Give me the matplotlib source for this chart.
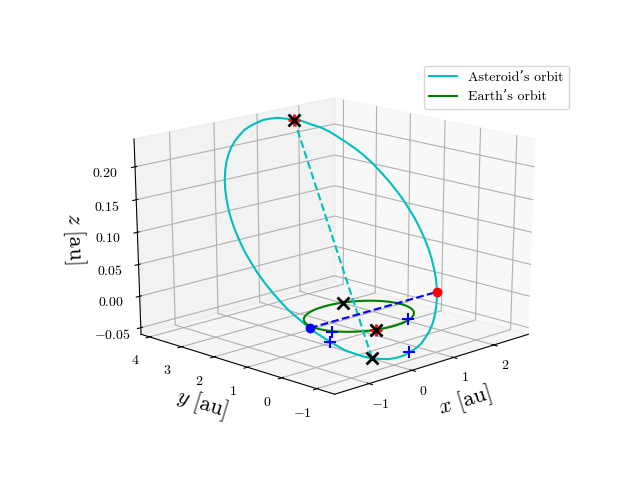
import matplotlib
matplotlib.use("Agg")
import matplotlib.pyplot as plt

plt.rcParams['font.family'] = ['cmr10', 'DejaVu Serif']
plt.rcParams['mathtext.fontset'] = 'cm'
plt.rcParams['axes.unicode_minus'] = False
plt.rcParams['axes.formatter.use_mathtext'] = True

ast_x = [-.288,-.131,.033,.200,.370,.543,.716,.889,1.058,1.224,1.387,1.543,1.691,1.832,1.964,2.085,2.195,2.293,2.378,
         2.449,2.507,2.551,2.578,2.592,2.591,2.575,2.543,2.496,2.436,2.361,2.274,2.173,2.060,1.936,1.803,1.661,1.510,
         1.353,1.189,1.022,.852,.679,.506,.333,.164,-.002,-.165,-.321,-.469,-.610,-.742,-.863,-.973,-1.071,-1.156,
         -1.227,-1.285,-1.329,-1.356,-1.370,-1.369,-1.353,-1.321,-1.274,-1.214,-1.139,-1.052,-.951,-.838,-.714,-.581,-.439,-.288]
ast_y = [-.725,-.777,-.813,-.830,-.829,-.810,-.774,-.719,-.648,-.560,-.457,-.337,-.204,-.057,.101,.271,.451,.638,.832,
         1.032,1.235,1.441,1.647,1.853,2.056,2.255,2.449,2.636,2.814,2.983,3.140,3.286,3.419,3.536,3.639,3.725,3.795,
         3.847,3.883,3.900,3.899,3.880,3.844,3.789,3.718,3.630,3.527,3.407,3.274,3.127,2.969,2.799,2.619,2.432,2.238,
         2.038,1.835,1.629,1.423,1.217,1.014,.815,.621,.434,.256,.087,-.070,-.216,-.349,-.466,-.569,-.655,-.725]
ast_z = [-.049,-.052,-.055,-.056,-.056,-.054,-.052,-.049,-.043,-.038,-.031,-.023,-.014,-.004,.006,.017,.027,.039,.051,
         .063,.075,.088,.100,.113,.125,.137,.149,.161,.172,.182,.191,.200,.209,.216,.221,.227,.231,
         .234,.237,.238,.238,.236,.234,.231,.226,.221,.215,.208,.200,.191,.181,.171,.160,.148,.136,
         .124,.112,.099,.087,.074,.062,.050,.038,.026,.016,.005,-.005,-.014,-.023,-.032,-.038,-.044,-.049]
earth_x = [1,.996,.985,.966,.940,.906,.866,.819,.766,.707,.643,.574,.5,.423,.342,.259,.174,.087,
           0,-.087,-.174,-.259,-.342,-.423,-.5,-.574,-.643,-.707,-.766,-.819,-.866,-.906,-.940,-.966,-.985,-.996,
           -1,-.996,-.985,-.966,-.940,-.906,-.866,-.819,-.766,-.707,-.643,-.574,-.5,-.423,-.342,-.259,-.174,-.087,
           0,.087,.174,.259,.342,.423,.5,.574,.643,.707,.766,.819,.866,.906,.940,.966,.985,.996,1]
earth_y = [0,.087,.174,.259,.342,.423,.5,.574,.643,.707,.766,.819,.866,.906,.940,.966,.985,.996,
           1,.996,.985,.966,.940,.906,.866,.819,.766,.707,.643,.574,.5,.423,.342,.259,.174,.087,
           0,-.087,-.174,-.259,-.342,-.423,-.5,-.574,-.643,-.707,-.766,-.819,-.866,-.906,-.940,-.966,-.985,-.996,
           -1,-.996,-.985,-.966,-.940,-.906,-.866,-.819,-.766,-.707,-.643,-.574,-.5,-.423,-.342,-.259,-.174,-.087,0]
earth_z = [0] * len(earth_x)

apsis_x = [1.510, -.288]
apsis_y = [3.795, -.725]
apsis_z = [.231, -.049]
node_x = [-1.11, 1.91]
node_y = [.03, .035]
node_z = [.002, .002]
black_x = [1.510, -.288, .37, -.37]
black_y = [3.795, -.725, .93, -.93]
black_z = [.231, -.049, 0, 0]
red_plus_x = [1.510, -.37]
red_plus_y = [3.795, -.93]
red_plus_z = [.231, 0]
blue_plus_x = [-.97, .43, -.90, .53]
blue_plus_y = [-.42, -.88, -.275, -.805]
blue_plus_z = [0, 0, -.018, -.054]

x_ticks = [-1, 0, 1, 2]
y_ticks = [-1, 0, 1, 2, 3, 4]
z_ticks = [-.05, 0, .05, .10, .15, .20]
x_labels = ['$-1$', '$0$', '$1$', '$2$']
y_labels = ['$-1$', '$0$', '$1$', '$2$', '$3$', '$4$']
z_labels = ['$-0.05$', '$0.00$', '$0.05$', '$0.10$', '$0.15$', '$0.20$']

fig = plt.figure(figsize=(6.4, 4.8), dpi=100)
ax = fig.add_subplot(111, projection='3d')
ax.apply_aspect = lambda position=None: None
ax.set_position([0.125, 0.11 - 1 / 480, 0.775, 0.77])
ax.view_init(elev=20, azim=-135)
ax.set_box_aspect((1, 1, 1), zoom=0.945)

ax.plot(ast_x, ast_y, ast_z, color='c', lw=1.5, label="Asteroid\u2019s orbit")
ax.plot(earth_x, earth_y, earth_z, color='g', lw=1.5, label="Earth\u2019s orbit")
ax.plot(apsis_x, apsis_y, apsis_z, color='c', ls='--', lw=1.5)
ax.plot(node_x, node_y, node_z, color='b', ls='--', lw=1.5)
ax.plot(red_plus_x, red_plus_y, red_plus_z, 'r+', ms=8, mew=2, ls='none')
ax.plot(black_x, black_y, black_z, 'kx', ms=8, mew=2, ls='none')
ax.plot(blue_plus_x, blue_plus_y, blue_plus_z, 'b+', ms=8, mew=1.5, ls='none')
ax.plot([node_x[0]], [node_y[0]], [node_z[0]], 'o', color='b', ms=6)
ax.plot([node_x[1]], [node_y[1]], [node_z[1]], 'o', color='r', ms=6)

ax.set_xlim(-1.78, 2.88, view_margin=0)
ax.set_ylim(-1.5, 4.27, view_margin=0)
ax.set_zlim(-.0606, .2417, view_margin=0)
ax.set_xticks(x_ticks)
ax.set_xticklabels(x_labels)
ax.set_yticks(y_ticks)
ax.set_yticklabels(y_labels)
ax.set_zticks(z_ticks)
ax.set_zticklabels(z_labels)
ax.tick_params(axis='x', pad=1)
ax.tick_params(axis='y', pad=3.5)
ax.tick_params(axis='z', pad=4)
ax.set_xlabel(r'$x\ [\mathrm{au}]$', fontsize=16, labelpad=3)
ax.set_ylabel(r'$y\ [\mathrm{au}]$', fontsize=16, labelpad=5)
ax.set_zlabel(r'$z\ [\mathrm{au}]$', fontsize=16, labelpad=5)
ax.legend(loc='upper right', fontsize=10)
fig.savefig('out.png', dpi=100)
